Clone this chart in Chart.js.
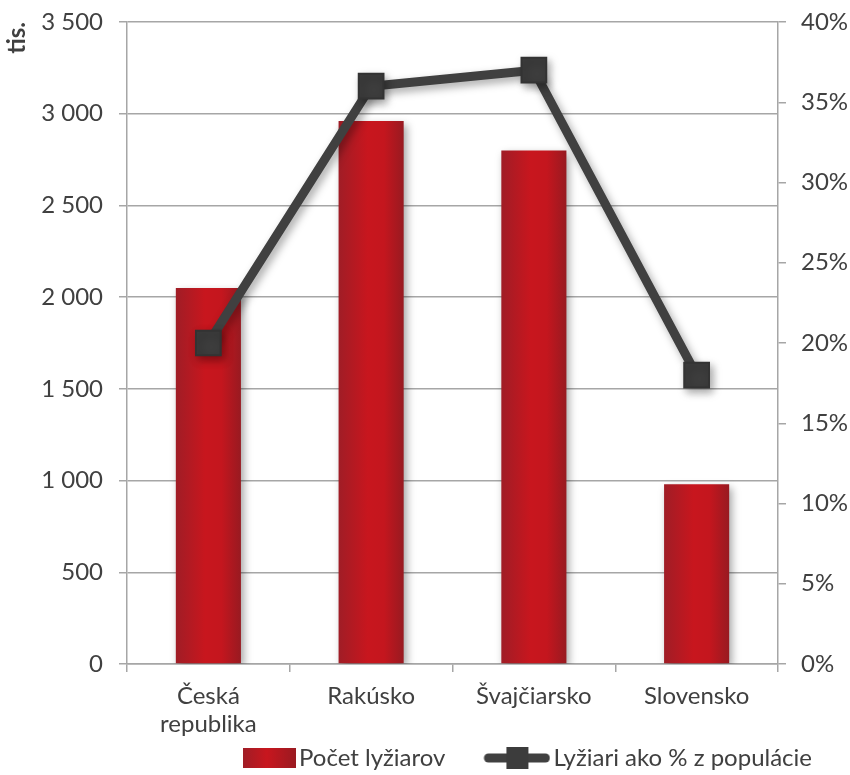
<!DOCTYPE html>
<html>
<head>
<meta charset="utf-8">
<script src="https://cdn.jsdelivr.net/npm/chart.js@4/dist/chart.umd.min.js"></script>
<style>
  html, body { margin: 0; padding: 0; background: #fff; }
</style>
</head>
<body>
<canvas id="myChart" width="850" height="775"></canvas>
<script>
const categories = [["Česká", "republika"], "Rakúsko", "Švajčiarsko", "Slovensko"];
const skiers = [2050, 2960, 2800, 980];
const skiersPct = [20, 36, 37, 18];
const seriesNames = ["Počet lyžiarov", "Lyžiari ako % z populácie"];

const FONT = "Lato, 'Open Sans', sans-serif";
const FSIZE = 24;
const TEXT = "#404040";
const GRID = "#a6a6a6";

function thousands(v) {
  if (v < 1000) return String(v);
  const t = Math.floor(v / 1000);
  const r = String(v % 1000).padStart(3, "0");
  return t + " " + r;
}

// legend icons (right-aligned inside a wider image so the text sits close)
function barIcon() {
  const c = document.createElement("canvas");
  c.width = 104; c.height = 22;
  const g = c.getContext("2d");
  const gr = g.createLinearGradient(51, 0, 104, 0);
  gr.addColorStop(0, "#a01d26");
  gr.addColorStop(0.45, "#c8161e");
  gr.addColorStop(1, "#9a1a21");
  g.fillStyle = gr;
  g.fillRect(51, 1, 53, 20);
  return c;
}
function lineIcon() {
  const c = document.createElement("canvas");
  c.width = 104; c.height = 24;
  const g = c.getContext("2d");
  g.strokeStyle = "#404040";
  g.lineWidth = 9;
  g.lineCap = "round";
  g.beginPath();
  g.moveTo(42, 12);
  g.lineTo(99, 12);
  g.stroke();
  g.fillStyle = "#3c3c3c";
  g.fillRect(60, 1, 22, 22);
  return c;
}

const shadowPlugin = {
  id: "shadow",
  beforeDatasetDraw(chart) {
    const ctx = chart.ctx;
    ctx.save();
    ctx.shadowColor = "rgba(0,0,0,0.35)";
    ctx.shadowBlur = 8;
    ctx.shadowOffsetX = 3;
    ctx.shadowOffsetY = 4;
  },
  afterDatasetDraw(chart) {
    chart.ctx.restore();
  }
};

// legend row starts further right than the canvas edge, like the original
const legendShift = {
  id: "legendShift",
  afterLayout(chart) {
    if (chart.legend) chart.legend.left = 191;
  }
};

function barGradient(context) {
  const chart = context.chart;
  const x = chart.scales && chart.scales.x;
  if (!chart.chartArea || !x || x.width === 0) return "#c8161e";
  const cx = x.getPixelForValue(context.dataIndex);
  const w = (x.width / categories.length) * 0.4;
  const g = chart.ctx.createLinearGradient(cx - w / 2, 0, cx + w / 2, 0);
  g.addColorStop(0, "#a01d26");
  g.addColorStop(0.45, "#c8161e");
  g.addColorStop(0.7, "#c4161e");
  g.addColorStop(1, "#981a21");
  return g;
}

const ctx = document.getElementById("myChart");

new Chart(ctx, {
  type: "bar",
  data: {
    labels: categories,
    datasets: [
      {
        type: "line",
        label: seriesNames[1],
        data: skiersPct,
        yAxisID: "y1",
        order: 0,
        borderColor: "#404040",
        borderWidth: 9,
        pointStyle: "rect",
        pointRadius: 17.5,
        pointBackgroundColor: "#3d3d3d",
        pointBorderColor: "#333333",
        pointBorderWidth: 2,
        tension: 0,
      },
      {
        type: "bar",
        label: seriesNames[0],
        data: skiers,
        yAxisID: "y",
        order: 1,
        backgroundColor: barGradient,
        categoryPercentage: 1,
        barPercentage: 0.4,
      },
    ],
  },
  options: {
    responsive: false,
    animation: false,
    devicePixelRatio: 1,
    layout: { padding: { top: 22, right: 0, left: 0, bottom: -5 } },
    plugins: {
      tooltip: { enabled: false },
      legend: {
        position: "bottom",
        align: "start",
        reverse: true,
        labels: {
          font: { family: FONT, size: FSIZE },
          color: TEXT,
          usePointStyle: true,
          pointStyleWidth: 86,
          padding: 10,
          generateLabels(chart) {
            return chart.data.datasets.map((ds, i) => ({
              text: ds.label,
              pointStyle: ds.type === "bar" ? barIcon() : lineIcon(),
              fillStyle: "transparent",
              strokeStyle: "transparent",
              lineWidth: 0,
              fontColor: TEXT,
              datasetIndex: i,
              hidden: false,
            }));
          },
        },
      },
    },
    scales: {
      x: {
        offset: true,
        grid: {
          display: true,
          offset: true,
          drawOnChartArea: false,
          color: GRID,
          lineWidth: 1.5,
          tickLength: 8,
        },
        border: { display: true, color: GRID, width: 1.5 },
        ticks: {
          font: { family: FONT, size: FSIZE, lineHeight: 1.17 },
          color: TEXT,
          padding: 10,
          maxRotation: 0,
        },
        afterFit(scale) { scale.height = 72; },
      },
      y: {
        position: "left",
        min: 0,
        max: 3500,
        ticks: {
          stepSize: 500,
          font: { family: FONT, size: FSIZE },
          color: TEXT,
          padding: 16,
          callback: (v) => thousands(v),
        },
        grid: { color: GRID, lineWidth: 1.5, tickLength: 8 },
        border: { display: true, color: GRID, width: 1.5 },
        title: {
          display: true,
          text: "tis.",
          align: "end",
          font: { family: FONT, size: 24, weight: "bold" },
          color: TEXT,
          padding: { top: 3, bottom: 0 },
        },
        afterFit(scale) {
          scale.width = 127;
          scale.paddingTop = 0;
          scale.paddingBottom = 0;
        },
      },
      y1: {
        position: "right",
        min: 0,
        max: 40,
        ticks: {
          stepSize: 5,
          font: { family: FONT, size: FSIZE },
          color: TEXT,
          padding: 15,
          callback: (v) => v + "%",
        },
        grid: { drawOnChartArea: false, color: GRID, lineWidth: 1.5, tickLength: 8 },
        border: { display: true, color: GRID, width: 1.5 },
        afterFit(scale) {
          scale.width = 72;
          scale.paddingTop = 0;
          scale.paddingBottom = 0;
        },
      },
    },
  },
  plugins: [shadowPlugin, legendShift],
});
</script>
</body>
</html>
